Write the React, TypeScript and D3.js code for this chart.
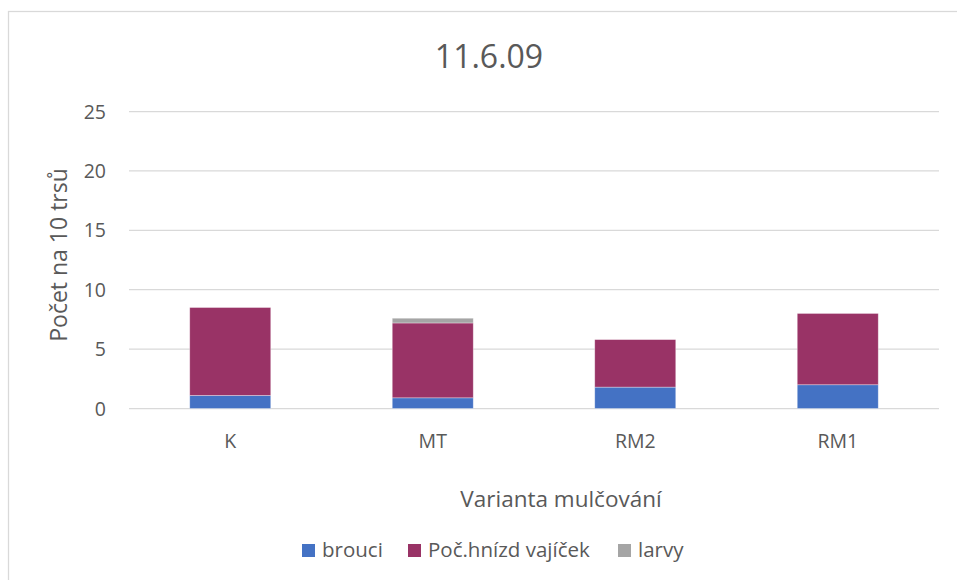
import React from "react";
import * as d3 from "d3";

// values
const categories = ["K", "MT", "RM2", "RM1"];
const brouci = [1.1, 0.9, 1.8, 2.0];
const hnizda = [7.4, 6.3, 4.0, 6.0];
const larvy = [0, 0.4, 0, 0];
const yTicks = [0, 5, 10, 15, 20, 25];

const seriesKeys = ["brouci", "Poč.hnízd vajíček", "larvy"];
const seriesColors: Record<string, string> = {
  brouci: "#4472C4",
  "Poč.hnízd vajíček": "#993366",
  larvy: "#A5A5A5",
};

const W = 957;
const H = 580;
const font = "'Open Sans', sans-serif";
const textColor = "#595959";

export default function App() {
  const rows = categories.map((c, i) => ({
    cat: c,
    brouci: brouci[i],
    "Poč.hnízd vajíček": hnizda[i],
    larvy: larvy[i],
  }));

  const layers = d3.stack<any>().keys(seriesKeys)(rows);

  const x = d3
    .scaleBand()
    .domain(categories)
    .range([129, 939])
    .paddingInner(0.6)
    .paddingOuter(0.3);

  const y = d3.scaleLinear().domain([0, 25]).range([408.5, 111.5]);

  // legend item positions
  const legendItems = [
    { key: "brouci", x: 302 },
    { key: "Poč.hnízd vajíček", x: 408 },
    { key: "larvy", x: 618 },
  ];

  return (
    <svg
      width={W}
      height={H}
      style={{ position: "absolute", left: 0, top: 0, fontFamily: font }}
    >
      <rect x={0} y={0} width={W} height={H} fill="#fff" />
      {/* chart border, runs past the right and bottom edges */}
      <rect
        x={8.5}
        y={11.5}
        width={W + 20}
        height={H + 20}
        fill="none"
        stroke="#d9d9d9"
        strokeWidth={1.25}
      />

      <text x={489} y={68} textAnchor="middle" fontSize={32} fill={textColor}>
        11.6.09
      </text>

      {/* gridlines */}
      {yTicks.map((t) => (
        <line
          key={t}
          x1={129}
          x2={939}
          y1={y(t)}
          y2={y(t)}
          stroke="#d9d9d9"
          strokeWidth={1.25}
        />
      ))}
      {yTicks.map((t) => (
        <text
          key={"l" + t}
          x={106}
          y={y(t)}
          dy="0.36em"
          textAnchor="end"
          fontSize={19.5}
          fill={textColor}
        >
          {t}
        </text>
      ))}

      {/* stacked bars */}
      {layers.map((layer) => (
        <g key={layer.key} fill={seriesColors[layer.key]}>
          {layer.map((d, i) =>
            d[1] - d[0] > 0 ? (
              <rect
                key={i}
                x={x(d.data.cat)}
                width={x.bandwidth()}
                y={y(d[1])}
                height={y(d[0]) - y(d[1])}
                stroke="#fff"
                strokeOpacity={0.45}
                strokeWidth={0.75}
              />
            ) : null
          )}
        </g>
      ))}

      {/* category labels */}
      {categories.map((c) => (
        <text
          key={c}
          x={(x(c) ?? 0) + x.bandwidth() / 2}
          y={448}
          textAnchor="middle"
          fontSize={19.5}
          fill={textColor}
        >
          {c}
        </text>
      ))}

      <text x={561} y={507} textAnchor="middle" fontSize={22.5} fill={textColor}>
        Varianta mulčování
      </text>

      <text
        transform="translate(67,255) rotate(-90)"
        textAnchor="middle"
        fontSize={23}
        fill={textColor}
      >
        Počet na 10 trsů
      </text>

      {/* legend */}
      {legendItems.map((it) => (
        <g key={it.key}>
          <rect
            x={it.x}
            y={544}
            width={13}
            height={13}
            fill={seriesColors[it.key]}
          />
          <text x={it.x + 20} y={557} fontSize={20.5} fill={textColor}>
            {it.key}
          </text>
        </g>
      ))}
    </svg>
  );
}
